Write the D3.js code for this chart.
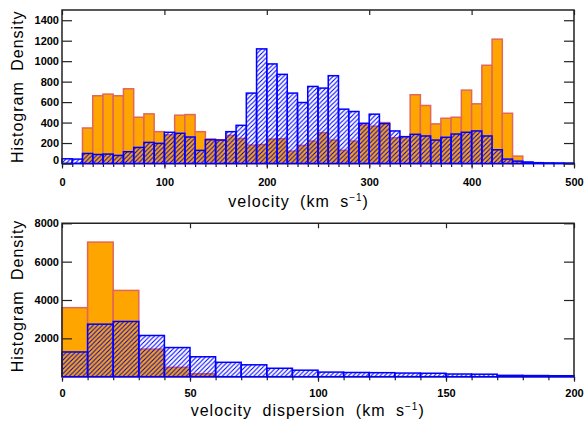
<!DOCTYPE html>
<html>
<head>
<meta charset="utf-8">
<script src="https://cdn.jsdelivr.net/npm/d3@7"></script>
<style>
  html, body { margin: 0; padding: 0; background: #fff; }
  svg { display: block; }
  .tick text { font-family: "Liberation Sans", Arial, sans-serif; font-size: 11px; font-weight: bold; fill: #000; }
  .tick line { stroke: #222; stroke-width: 1.2; }
  .title { font-family: "Liberation Sans", Arial, sans-serif; font-size: 16px; fill: #000; letter-spacing: 1px; word-spacing: 5px; }
</style>
</head>
<body>
<svg id="chart" width="586" height="423"></svg>
<script>
// ---- velocity histogram: 10 km/s bins, 0 to 500 ----
const velocityBinWidth = 10;
const velocityBlue = [
  46, 43, 98, 88, 92, 79, 115, 157, 206, 197,
  305, 295, 259, 128, 233, 229, 311, 373, 688, 1120,
  973, 871, 688, 596, 753, 737, 858, 531, 508, 393,
  482, 390, 318, 262, 285, 269, 229, 256, 288, 305,
  318, 269, 134, 43, 23, 15, 8, 6, 5, 4
];
const velocityOrange = [
  0, 0, 347, 662, 678, 662, 730, 452, 485, 311,
  280, 472, 478, 311, 239, 232, 275, 245, 180, 185,
  239, 242, 121, 177, 219, 301, 229, 128, 219, 377,
  365, 400, 252, 262, 672, 567, 387, 442, 452, 717,
  583, 960, 1215, 491, 72, 0, 0, 0, 0, 0
];
const velocityTicks = [0, 100, 200, 300, 400, 500];
const velocityMinorTicks = d3.range(0, 501, 10);
const velocityDensityTicks = [0, 200, 400, 600, 800, 1000, 1200, 1400];

// ---- velocity dispersion histogram: 10 km/s bins, 0 to 200 ----
const dispersionBinWidth = 10;
const dispersionBlue = [
  1290, 2740, 2880, 2150, 1520, 1040, 750, 620, 440, 340,
  240, 220, 210, 190, 180, 140, 130, 70, 60, 50
];
const dispersionOrange = [
  3600, 7020, 4500, 1440, 490, 150, 0, 0, 0, 0,
  0, 0, 0, 0, 0, 0, 0, 0, 0, 0
];
const dispersionTicks = [0, 50, 100, 150, 200];
const dispersionMinorTicks = d3.range(0, 201, 10);
const dispersionDensityTicks = [2000, 4000, 6000, 8000];

const svg = d3.select("#chart");
svg.append("rect").attr("width", 586).attr("height", 423).attr("fill", "#fff");

// diagonal blue hatching for the hatched histogram
const s = 4.5;
svg.append("defs").append("pattern")
  .attr("id", "hatch")
  .attr("patternUnits", "userSpaceOnUse")
  .attr("width", s).attr("height", s)
  .append("path")
  .attr("d", `M${-s/4},${s/4} L${s/4},${-s/4} M0,${s} L${s},0 M${s*3/4},${s*5/4} L${s*5/4},${s*3/4}`)
  .attr("stroke", "#0000ff")
  .attr("stroke-width", 1.1);

function drawPanel(cfg) {
  const x = d3.scaleLinear().domain(cfg.xDomain).range([62, 574]);
  const y = d3.scaleLinear().domain(cfg.yDomain).range([cfg.bottom, cfg.top]);
  const g = svg.append("g");

  // bottom axis line (covered by the histogram baseline)
  g.append("line")
    .attr("x1", x.range()[0]).attr("x2", x.range()[1])
    .attr("y1", cfg.bottom).attr("y2", cfg.bottom)
    .attr("stroke", "#222").attr("stroke-width", 1.5);

  // bottom axis: major ticks with labels, minor ticks every bin
  g.append("g").attr("transform", `translate(0,${cfg.bottom})`)
    .call(d3.axisBottom(x).tickValues(cfg.minorTicks).tickSize(3.5).tickFormat(""))
    .call(a => a.select(".domain").remove());
  g.append("g").attr("transform", `translate(0,${cfg.bottom})`)
    .call(d3.axisBottom(x).tickValues(cfg.xTicks).tickSize(5).tickPadding(cfg.xLabelPad).tickFormat(d3.format("d")))
    .call(a => a.select(".domain").remove());

  // orange filled histogram
  const bins = cfg.orange.map((v, i) => ({ x0: i * cfg.binWidth, x1: (i + 1) * cfg.binWidth, v }));
  g.append("g").selectAll("rect")
    .data(bins.filter(d => d.v > 0))
    .join("rect")
    .attr("x", d => x(d.x0))
    .attr("width", d => x(d.x1) - x(d.x0))
    .attr("y", d => y(Math.min(d.v, cfg.yDomain[1])))
    .attr("height", d => y(0) - y(Math.min(d.v, cfg.yDomain[1])))
    .attr("fill", "#ffa500")
    .attr("stroke", "#e0685a")
    .attr("stroke-width", 1.5);

  // blue hatched histogram on top
  const bbins = cfg.blue.map((v, i) => ({ x0: i * cfg.binWidth, x1: (i + 1) * cfg.binWidth, v }));
  g.append("g").selectAll("rect")
    .data(bbins)
    .join("rect")
    .attr("x", d => x(d.x0))
    .attr("width", d => x(d.x1) - x(d.x0))
    .attr("y", d => y(d.v))
    .attr("height", d => y(0) - y(d.v))
    .attr("fill", "url(#hatch)")
    .attr("stroke", "#0000ff")
    .attr("stroke-width", 1.5);

  // left axis with labels, ticks pointing inward
  g.append("g").attr("transform", `translate(${x.range()[0]},0)`)
    .call(d3.axisLeft(y).tickValues(cfg.yTicks).tickSizeInner(-10).tickSizeOuter(0).tickPadding(3).tickFormat(d3.format("d")))
    .call(a => a.select(".domain").remove())
    // lift the zero label clear of the baseline
    .call(a => a.selectAll(".tick").filter(d => d === 0).select("text").attr("dy", "0.02em"));
  // right axis
  g.append("g").attr("transform", `translate(${x.range()[1]},0)`)
    .call(d3.axisRight(y).tickValues(cfg.yTicks).tickSizeInner(-10).tickSizeOuter(0).tickFormat(""))
    .call(a => a.select(".domain").remove());
  // top axis
  g.append("g").attr("transform", `translate(0,${cfg.top})`)
    .call(d3.axisTop(x).tickValues(cfg.xTicks).tickSizeInner(-5).tickSizeOuter(0).tickFormat(""))
    .call(a => a.select(".domain").remove());

  // frame: left, top, right
  g.append("path")
    .attr("d", `M${x.range()[0]},${cfg.bottom} V${cfg.top} H${x.range()[1]} V${cfg.bottom}`)
    .attr("fill", "none").attr("stroke", "#222").attr("stroke-width", 1.5);

  // y title
  g.append("text").attr("class", "title")
    .attr("transform", `translate(23.3,${(cfg.top + cfg.bottom) / 2 + cfg.yTitleShift}) rotate(-90)`)
    .attr("text-anchor", "middle")
    .text("Histogram Density");

  // x title with superscript
  const t = g.append("text").attr("class", "title")
    .attr("x", cfg.xTitleX).attr("y", cfg.xTitleY);
  t.append("tspan").text(cfg.xTitle + " (km s");
  t.append("tspan").attr("font-size", "10px").attr("dy", -6).text("\u22121");
  t.append("tspan").attr("dy", 6).text(")");
}

drawPanel({
  xDomain: [0, 500], yDomain: [0, 1500], top: 10, bottom: 163.5,
  binWidth: velocityBinWidth, blue: velocityBlue, orange: velocityOrange,
  xTicks: velocityTicks, minorTicks: velocityMinorTicks, yTicks: velocityDensityTicks,
  xLabelPad: 10, yTitleShift: 0,
  xTitle: "velocity", xTitleX: 228.3, xTitleY: 206.5
});

drawPanel({
  xDomain: [0, 200], yDomain: [0, 8000], top: 223.3, bottom: 376.7,
  binWidth: dispersionBinWidth, blue: dispersionBlue, orange: dispersionOrange,
  xTicks: dispersionTicks, minorTicks: dispersionMinorTicks, yTicks: dispersionDensityTicks,
  xLabelPad: 8, yTitleShift: -4,
  xTitle: "velocity dispersion", xTitleX: 190.7, xTitleY: 416
});
</script>
</body>
</html>
